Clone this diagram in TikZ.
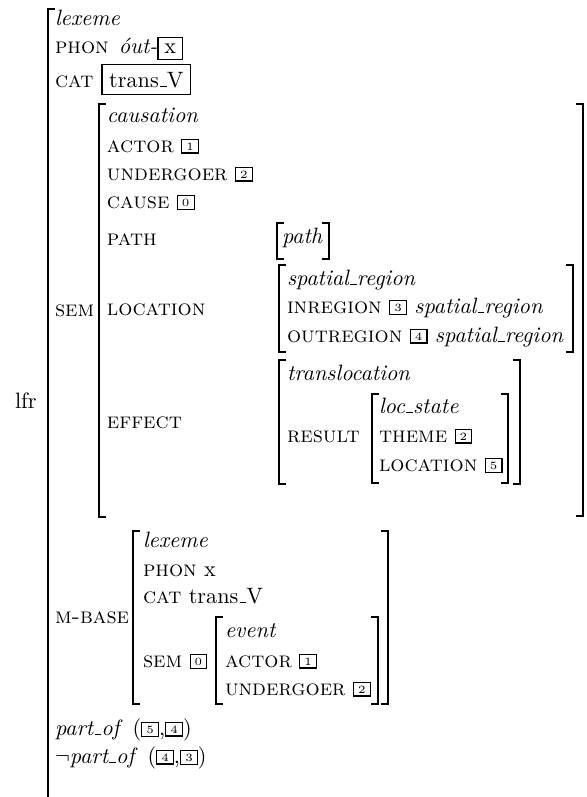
\documentclass[tikz,border=0pt]{standalone}
\newcommand\tg[1]{\raisebox{0.9pt}{\setlength\fboxsep{1.1pt}\setlength\fboxrule{0.5pt}\fbox{\hspace{0.7pt}\tiny #1\hspace{0.7pt}}}}
\newcommand\bx[1]{{\setlength\fboxsep{2.6pt}\setlength\fboxrule{0.5pt}\fbox{#1}}}
\newcommand\bigbx[1]{{\setlength\fboxsep{3pt}\setlength\fboxrule{0.5pt}\fbox{#1}}}
\newcommand\us{\leavevmode\kern.06em\vbox{\hrule width.3em height 0.45pt}}
\begin{document}
\begin{tikzpicture}[x=0.45pt,y=-0.45pt,
  lab/.style={anchor=base west, inner sep=0pt, outer sep=0pt},
  brk/.style={line width=0.5pt, line cap=rect}]
\useasboundingbox (0,0) rectangle (587,797);
% brackets
\newcommand\lb[3]{\draw[brk] (#1+6,#2) -- (#1,#2) -- (#1,#3) -- (#1+6,#3);}
\newcommand\rb[3]{\draw[brk] (#1-6,#2) -- (#1,#2) -- (#1,#3) -- (#1-6,#3);}
\draw[brk] (54,9) -- (48,9) -- (48,797);
\lb{99}{104}{517}\rb{583}{104}{516}
\lb{277}{223}{259}\rb{329}{223}{259}
\lb{279}{265}{352}\rb{573}{265}{352}
\lb{279}{360}{484}\rb{520}{360}{484}
\lb{372}{394}{483}\rb{508}{394}{483}
\lb{133}{531}{704}\rb{388}{531}{704}
\lb{216}{617}{704}\rb{378}{617}{704}
% texts
\node[lab] (lfr) at (15,408) {lfr};
\node[lab] (lex1) at (55,25) {\textit{lexeme}};
\node[lab] (phon1) at (55,53) {\textsc{phon}\hspace{4.5pt}\textit{óut-}\bx{x}};
\node[lab] (cat1) at (55,87) {\textsc{cat}\hspace{3.6pt}\bigbx{trans\us V}};
\node[lab] (sem1) at (55,316) {\textsc{sem}};
\node[lab] (caus) at (107,122) {\textit{causation}};
\node[lab] (act1) at (107,152) {\textsc{actor} \tg{1}};
\node[lab] (und1) at (107,180) {\textsc{undergoer} \tg{2}};
\node[lab] (cause) at (107,208) {\textsc{cause} \tg{0}};
\node[lab] (pathl) at (107,245) {\textsc{path}};
\node[lab] (locl) at (107,315) {\textsc{location}};
\node[lab] (effl) at (107,428) {\textsc{effect}};
\node[lab] (path) at (282,243) {\textit{path}};
\node[lab] (spat) at (287,285) {\textit{spatial\us region}};
\node[lab] (inreg) at (287,313) {\textsc{inregion} \tg{3} \textit{spatial\us region}};
\node[lab] (outreg) at (287,342) {\textsc{outregion} \tg{4} \textit{spatial\us region}};
\node[lab] (transl) at (287,380) {\textit{translocation}};
\node[lab] (result) at (287,442) {\textsc{result}};
\node[lab] (locst) at (379,413) {\textit{loc\us state}};
\node[lab] (theme) at (379,442) {\textsc{theme} \tg{2}};
\node[lab] (loc5) at (379,471) {\textsc{location} \tg{5}};
\node[lab] (mbase) at (55,623) {\textsc{m-base}};
\node[lab] (lex2) at (143,547) {\textit{lexeme}};
\node[lab] (phon2) at (143,576) {\textsc{phon} x};
\node[lab] (cat2) at (143,603) {\textsc{cat} trans\us V};
\node[lab] (sem2) at (143,667) {\textsc{sem} \tg{0}};
\node[lab] (event) at (225,637) {\textit{event}};
\node[lab] (act2) at (225,667) {\textsc{actor} \tg{1}};
\node[lab] (und2) at (225,695) {\textsc{undergoer} \tg{2}};
\node[lab] (partof) at (55,735) {\textit{part\us of}\hspace{4.5pt}(\tg{5},\tg{4})};
\node[lab] (npartof) at (55,763) {$\neg$\textit{part\us of}\hspace{4.5pt}(\tg{4},\tg{3})};
\end{tikzpicture}
\end{document}
